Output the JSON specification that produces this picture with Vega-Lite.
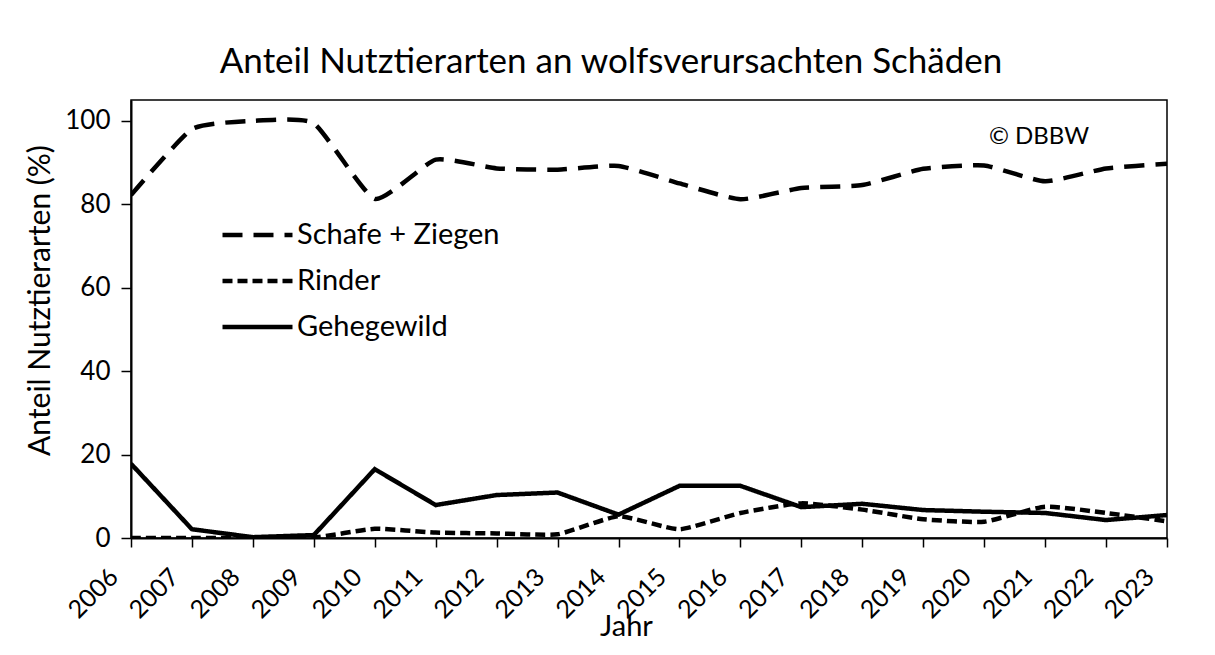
{
  "$schema": "https://vega.github.io/schema/vega-lite/v6.json",
  "width": 1036,
  "height": 438,
  "autosize": {"type": "none"},
  "padding": {"left": 131, "top": 100, "right": 48, "bottom": 117},
  "background": "white",
  "title": {
    "text": "Anteil Nutztierarten an wolfsverursachten Schäden",
    "font": "Lato",
    "fontSize": 35,
    "fontWeight": "normal",
    "color": "black",
    "anchor": "middle",
    "dx": -38,
    "offset": 20
  },
  "config": {
    "font": "Lato",
    "view": {"stroke": "black", "strokeWidth": 1.5},
    "axis": {
      "labelFont": "Lato",
      "titleFont": "Lato",
      "labelColor": "black",
      "titleColor": "black",
      "domainColor": "black",
      "tickColor": "black",
      "grid": false,
      "domainWidth": 2,
      "tickWidth": 1.5
    }
  },
  "data": {
    "values": [
      {"Jahr": 2006, "Art": "Schafe + Ziegen", "Anteil": 82.2},
      {"Jahr": 2007, "Art": "Schafe + Ziegen", "Anteil": 98.0},
      {"Jahr": 2008, "Art": "Schafe + Ziegen", "Anteil": 100.0},
      {"Jahr": 2009, "Art": "Schafe + Ziegen", "Anteil": 99.4},
      {"Jahr": 2010, "Art": "Schafe + Ziegen", "Anteil": 81.3},
      {"Jahr": 2011, "Art": "Schafe + Ziegen", "Anteil": 90.7},
      {"Jahr": 2012, "Art": "Schafe + Ziegen", "Anteil": 88.6},
      {"Jahr": 2013, "Art": "Schafe + Ziegen", "Anteil": 88.3},
      {"Jahr": 2014, "Art": "Schafe + Ziegen", "Anteil": 89.2},
      {"Jahr": 2015, "Art": "Schafe + Ziegen", "Anteil": 85.0},
      {"Jahr": 2016, "Art": "Schafe + Ziegen", "Anteil": 81.2},
      {"Jahr": 2017, "Art": "Schafe + Ziegen", "Anteil": 83.9},
      {"Jahr": 2018, "Art": "Schafe + Ziegen", "Anteil": 84.6},
      {"Jahr": 2019, "Art": "Schafe + Ziegen", "Anteil": 88.5},
      {"Jahr": 2020, "Art": "Schafe + Ziegen", "Anteil": 89.3},
      {"Jahr": 2021, "Art": "Schafe + Ziegen", "Anteil": 85.5},
      {"Jahr": 2022, "Art": "Schafe + Ziegen", "Anteil": 88.6},
      {"Jahr": 2023, "Art": "Schafe + Ziegen", "Anteil": 89.7},
      {"Jahr": 2006, "Art": "Rinder", "Anteil": 0.0},
      {"Jahr": 2007, "Art": "Rinder", "Anteil": 0.0},
      {"Jahr": 2008, "Art": "Rinder", "Anteil": 0.0},
      {"Jahr": 2009, "Art": "Rinder", "Anteil": 0.1},
      {"Jahr": 2010, "Art": "Rinder", "Anteil": 2.2},
      {"Jahr": 2011, "Art": "Rinder", "Anteil": 1.3},
      {"Jahr": 2012, "Art": "Rinder", "Anteil": 1.1},
      {"Jahr": 2013, "Art": "Rinder", "Anteil": 0.9},
      {"Jahr": 2014, "Art": "Rinder", "Anteil": 5.2},
      {"Jahr": 2015, "Art": "Rinder", "Anteil": 2.1},
      {"Jahr": 2016, "Art": "Rinder", "Anteil": 6.0},
      {"Jahr": 2017, "Art": "Rinder", "Anteil": 8.3},
      {"Jahr": 2018, "Art": "Rinder", "Anteil": 6.8},
      {"Jahr": 2019, "Art": "Rinder", "Anteil": 4.5},
      {"Jahr": 2020, "Art": "Rinder", "Anteil": 3.9},
      {"Jahr": 2021, "Art": "Rinder", "Anteil": 7.5},
      {"Jahr": 2022, "Art": "Rinder", "Anteil": 6.0},
      {"Jahr": 2023, "Art": "Rinder", "Anteil": 4.0},
      {"Jahr": 2006, "Art": "Gehegewild", "Anteil": 17.8},
      {"Jahr": 2007, "Art": "Gehegewild", "Anteil": 2.1},
      {"Jahr": 2008, "Art": "Gehegewild", "Anteil": 0.2},
      {"Jahr": 2009, "Art": "Gehegewild", "Anteil": 0.7},
      {"Jahr": 2010, "Art": "Gehegewild", "Anteil": 16.5},
      {"Jahr": 2011, "Art": "Gehegewild", "Anteil": 7.9},
      {"Jahr": 2012, "Art": "Gehegewild", "Anteil": 10.3},
      {"Jahr": 2013, "Art": "Gehegewild", "Anteil": 10.9},
      {"Jahr": 2014, "Art": "Gehegewild", "Anteil": 5.6},
      {"Jahr": 2015, "Art": "Gehegewild", "Anteil": 12.5},
      {"Jahr": 2016, "Art": "Gehegewild", "Anteil": 12.5},
      {"Jahr": 2017, "Art": "Gehegewild", "Anteil": 7.4},
      {"Jahr": 2018, "Art": "Gehegewild", "Anteil": 8.2},
      {"Jahr": 2019, "Art": "Gehegewild", "Anteil": 6.7},
      {"Jahr": 2020, "Art": "Gehegewild", "Anteil": 6.3},
      {"Jahr": 2021, "Art": "Gehegewild", "Anteil": 6.0},
      {"Jahr": 2022, "Art": "Gehegewild", "Anteil": 4.3},
      {"Jahr": 2023, "Art": "Gehegewild", "Anteil": 5.5}
    ]
  },
  "layer": [
    {
      "transform": [{"filter": "datum.Art !== 'Gehegewild'"}],
      "mark": {"type": "line", "strokeWidth": 4.5, "color": "black", "interpolate": "cardinal", "tension": 0.5, "clip": true},
      "encoding": {
        "x": {
          "field": "Jahr",
          "type": "quantitative",
          "scale": {"domain": [2006, 2023], "nice": false, "zero": false},
          "axis": {
            "values": [2006, 2007, 2008, 2009, 2010, 2011, 2012, 2013, 2014, 2015, 2016, 2017, 2018, 2019, 2020, 2021, 2022, 2023],
            "format": "d",
            "labelAngle": -45,
            "labelFontSize": 25,
            "labelOverlap": false,
            "labelPadding": 17,
            "labelOffset": -26,
            "tickSize": 9,
            "title": "Jahr",
            "titleFontSize": 29,
            "titleFontWeight": "normal",
            "titleX": 495,
            "titleY": 74,
            "titleAlign": "center",
            "titleBaseline": "top"
          }
        },
        "y": {
          "field": "Anteil",
          "type": "quantitative",
          "scale": {"domain": [0, 105], "nice": false},
          "axis": {
            "values": [0, 20, 40, 60, 80, 100],
            "labelFontSize": 26,
            "labelPadding": 11,
            "tickSize": 10,
            "title": "Anteil Nutztierarten (%)",
            "titleFontSize": 30,
            "titleFontWeight": "normal",
            "titleAngle": -90,
            "titleX": -91,
            "titleY": 200,
            "titleAlign": "center",
            "titleBaseline": "middle"
          }
        },
        "strokeDash": {
          "field": "Art",
          "type": "nominal",
          "scale": {
            "domain": ["Schafe + Ziegen", "Rinder", "Gehegewild"],
            "range": [[20, 11], [10, 5], [1, 0]]
          },
          "legend": {
            "orient": "none",
            "legendX": 89,
            "legendY": 112,
            "title": null,
            "symbolType": "stroke",
            "symbolSize": 4900,
            "symbolStrokeWidth": 4.5,
            "symbolStrokeColor": "black",
            "labelFont": "Lato",
            "labelFontSize": 29,
            "labelColor": "black",
            "labelLimit": 0,
            "labelOffset": 2,
            "clipHeight": 46,
            "rowPadding": 0
          }
        }
      }
    },
    {
      "transform": [{"filter": "datum.Art === 'Gehegewild'"}],
      "mark": {"type": "line", "strokeWidth": 4.5, "color": "black", "interpolate": "linear", "clip": true},
      "encoding": {
        "x": {"field": "Jahr", "type": "quantitative"},
        "y": {"field": "Anteil", "type": "quantitative"},
        "strokeDash": {"field": "Art", "type": "nominal"}
      }
    },
    {
      "data": {"values": [{"Jahr": 2020.9, "Anteil": 96.2, "t": "© DBBW"}]},
      "mark": {"type": "text", "font": "Lato", "fontSize": 24, "color": "black", "align": "center", "baseline": "middle"},
      "encoding": {
        "x": {"field": "Jahr", "type": "quantitative"},
        "y": {"field": "Anteil", "type": "quantitative"},
        "text": {"field": "t"}
      }
    }
  ]
}
